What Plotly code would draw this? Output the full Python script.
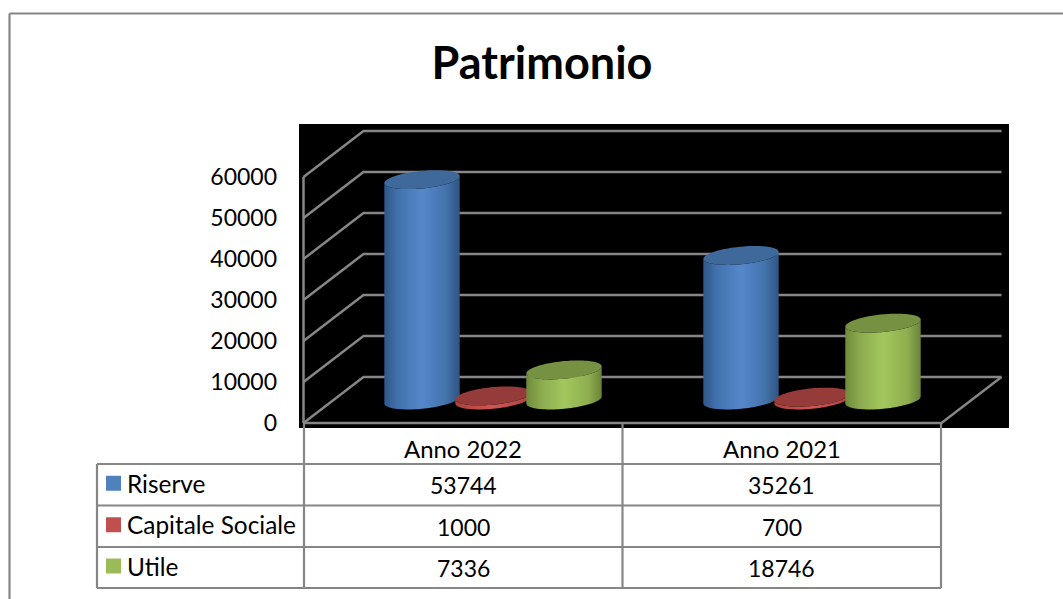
import math
import plotly.graph_objects as go

# ---- data ----
categories = ["Anno 2022", "Anno 2021"]
riserve = [53744, 35261]
capitale_sociale = [1000, 700]
utile = [7336, 18746]
series_names = ["Riserve", "Capitale Sociale", "Utile"]
y_ticks = [0, 10000, 20000, 30000, 40000, 50000, 60000]
title_text = "Patrimonio"

W, H = 1063, 599
FONT = "Lato"
GREY = "#868686"

# plot window (black area) in page pixels and its scales
PL, PR, PT, PB = 299, 1009, 124, 428
X0, X_UNIT = 303.5, 319.0      # px of category edge 0, px per category
Y0, Y_UNIT = 423.0, 246 / 60000  # px of value 0, px per value unit
x_range = [(PL - X0) / X_UNIT, (PR - X0) / X_UNIT]
y_range = [(Y0 - PB) / Y_UNIT, (Y0 - PT) / Y_UNIT]
# 3-D depth of the floor expressed in axis units
DX, DY = 60 / X_UNIT, 46 / Y_UNIT
# cylinder geometry in axis units
A = 37.7 / X_UNIT
B = 8.8 / Y_UNIT
TILT = 3.5 / Y_UNIT
SPACING = 71 / X_UNIT

styles = [
    dict(top="#3f699b", key="#4f81bd",
         scale=[[0, "#2f5789"], [0.18, "#4272ad"], [0.5, "#5588cb"], [0.82, "#4472aa"], [1, "#2f5583"]]),
    dict(top="#953b39", key="#c0504d",
         scale=[[0, "#a84340"], [0.5, "#d05654"], [1, "#a84340"]]),
    dict(top="#779143", key="#9bbb59",
         scale=[[0, "#6f8a3a"], [0.2, "#8cab4f"], [0.5, "#a3c75d"], [0.82, "#8fae50"], [1, "#6a8438"]]),
]
values = [riserve, capitale_sociale, utile]


def px(x):
    return x / W


def py(y):
    return 1 - y / H


fig = go.Figure()

# gridlines on side wall and back wall
for v in y_ticks:
    fig.add_trace(go.Scatter(
        x=[0, DX, len(categories) + DX], y=[v, v + DY, v + DY], mode="lines",
        line=dict(color=GREY, width=2.5), hoverinfo="skip", showlegend=False))
# floor and front axis
fig.add_trace(go.Scatter(
    x=[0, 0, None, 0, len(categories), len(categories) + DX],
    y=[y_ticks[-1], 0, None, 0, 0, DY], mode="lines",
    line=dict(color=GREY, width=2.5), hoverinfo="skip", showlegend=False))


def ellipse(cx, cy, t0, t1, n=48):
    xs, ys = [], []
    for i in range(n + 1):
        t = math.radians(t0 + (t1 - t0) * i / n)
        xs.append(cx + A * math.cos(t))
        ys.append(cy + B * math.sin(t) + TILT * math.cos(t))
    return xs, ys


for c in range(len(categories)):
    centre = c + 0.5 + DX / 2
    for s, vals in enumerate(values):
        cx = centre + (s - 1) * SPACING
        base = DY / 2
        top = base + vals[c]
        st = styles[s]
        xb, yb = ellipse(cx, base, 180, 360)
        xt, yt = ellipse(cx, top, 360, 180)
        fig.add_trace(go.Scatter(
            x=xb + xt + xb[:1], y=yb + yt + yb[:1], mode="none", fill="toself",
            fillgradient=dict(type="horizontal", colorscale=st["scale"]),
            name=series_names[s], showlegend=False, hoverinfo="skip"))
        xe, ye = ellipse(cx, top, 0, 360, 96)
        fig.add_trace(go.Scatter(
            x=xe, y=ye, mode="none", fill="toself",
            fillcolor=st["top"], name=series_names[s], showlegend=False,
            hovertemplate=f"{series_names[s]}: {vals[c]}<extra>{categories[c]}</extra>"))

shapes = []


def line(x0, y0, x1, y1, width=2.2):
    shapes.append(dict(type="line", xref="paper", yref="paper",
                       x0=px(x0), y0=py(y0), x1=px(x1), y1=py(y1),
                       line=dict(color=GREY, width=width)))


# outer frame
line(9.5, 13.5, W, 13.5)
line(9.5, 13.5, 9.5, H)

# data table grid
TL, T0, T1, T2 = 97, 304, 622.5, 941
ROWS = [423, 464, 505.5, 547, 588]
line(T0, ROWS[0], T0, ROWS[-1])
line(T1, ROWS[0], T1, ROWS[-1])
line(T2, ROWS[0], T2, ROWS[-1])
line(TL, ROWS[1], TL, ROWS[-1])
for r in ROWS[1:]:
    line(TL, r, T2, r)

annotations = []


def text(x, y, s, size, anchor="center"):
    annotations.append(dict(text=s, x=px(x), y=py(y), xref="paper", yref="paper",
                            xanchor=anchor, yanchor="middle", showarrow=False,
                            font=dict(family=FONT, size=size, color="#000000")))


DIGIT_SIZE = 23
LABEL_SIZE = 24.4
mids = [(T0 + T1) / 2, (T1 + T2) / 2]
for c, cat in enumerate(categories):
    text(mids[c], 448, cat, LABEL_SIZE - 0.5)
for s, vals in enumerate(values):
    ym = (ROWS[s + 1] + ROWS[s + 2]) / 2
    for c in range(len(categories)):
        text(mids[c], ym + 0.5, str(vals[c]), DIGIT_SIZE)
    text(125, ym - 1.5, series_names[s], LABEL_SIZE, "left")
    shapes.append(dict(type="rect", xref="paper", yref="paper",
                       x0=px(106), x1=px(121), y0=py(ym + 6), y1=py(ym - 9),
                       fillcolor=styles[s]["key"], line=dict(width=0)))

fig.update_layout(
    width=W, height=H, margin=dict(l=0, r=0, t=0, b=0, pad=0), autosize=False,
    paper_bgcolor="white", plot_bgcolor="black", showlegend=False,
    title=dict(text=title_text, x=px(542), y=py(63), xanchor="center", yanchor="middle",
               xref="paper", yref="paper", automargin=False,
               font=dict(family=FONT, size=45, color="#000000", weight="bold")),
    xaxis=dict(domain=[px(PL), px(PR)], range=x_range, showgrid=False, zeroline=False,
               showticklabels=False, ticks="", fixedrange=True, automargin=False),
    yaxis=dict(domain=[py(PB), py(PT)], range=y_range, showgrid=False, zeroline=False,
               tickmode="array", tickvals=y_ticks, ticktext=[str(v) for v in y_ticks],
               ticks="", ticklabelstandoff=21, fixedrange=True, automargin=False,
               tickfont=dict(family=FONT, size=DIGIT_SIZE, color="#000000")),
    shapes=shapes, annotations=annotations,
)

fig.write_html("out.html", config=dict(displayModeBar=False),
               post_script="document.body.style.margin='0';")
